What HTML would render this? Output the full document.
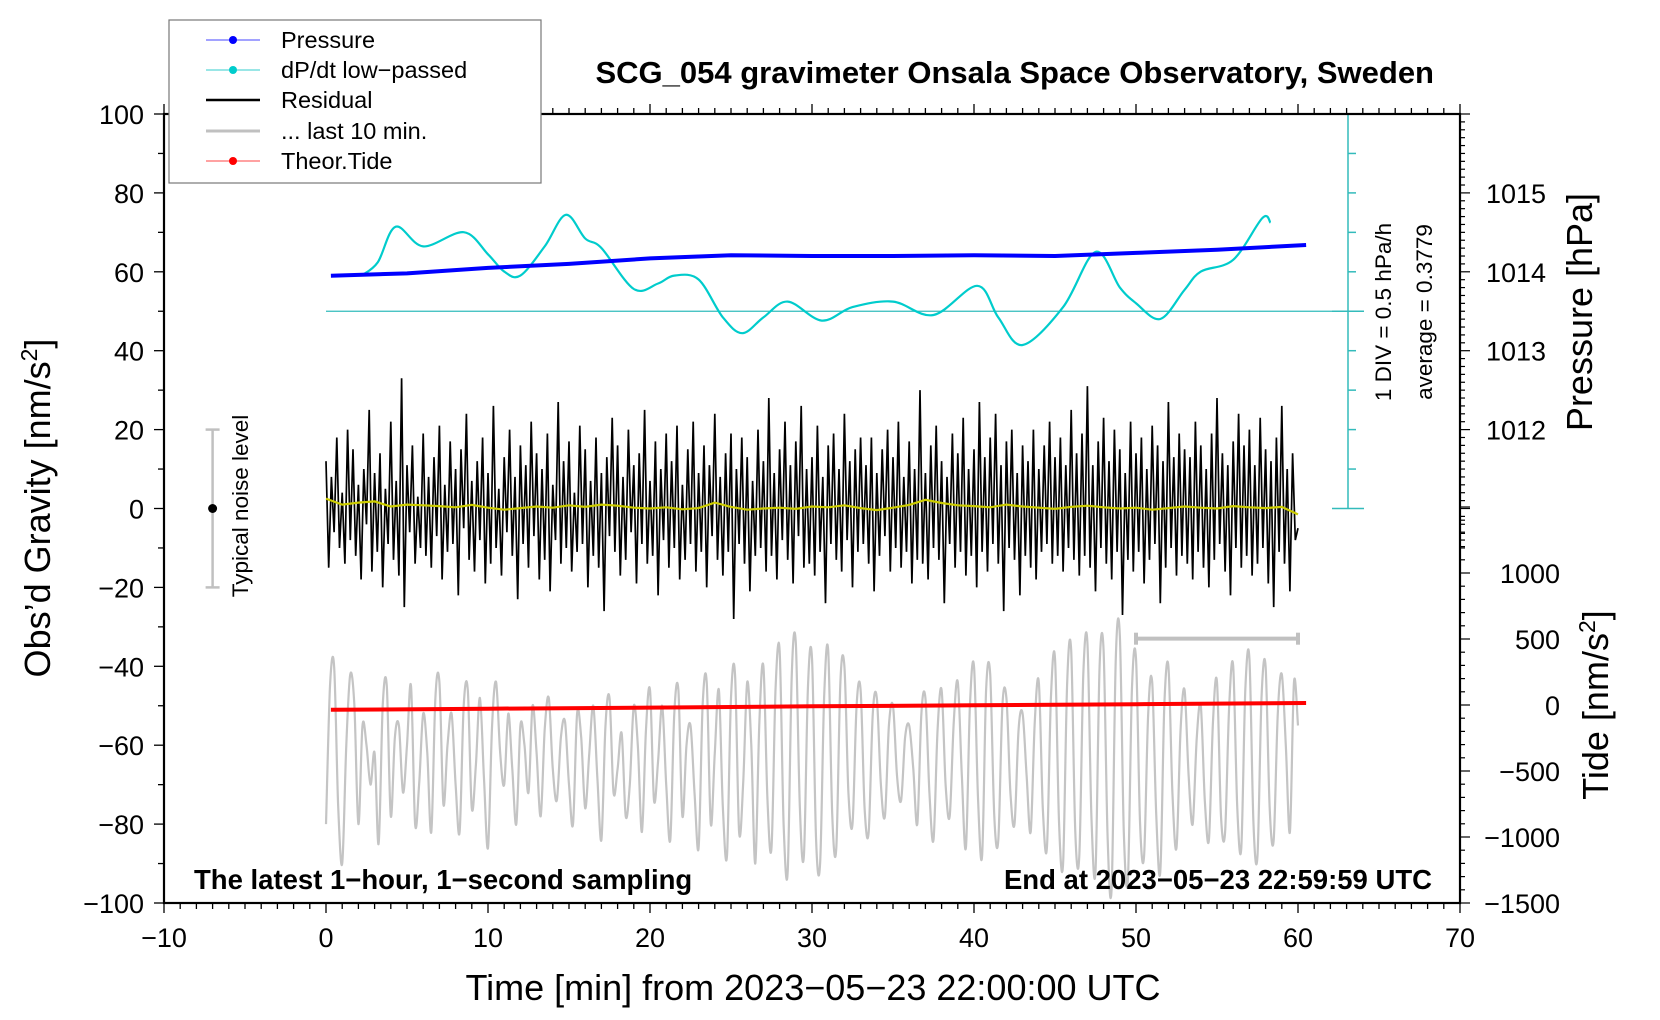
<!DOCTYPE html>
<html><head><meta charset="utf-8">
<style>
html,body{margin:0;padding:0;background:#fff;}
svg{display:block;font-family:"Liberation Sans",Arial,sans-serif;}
</style></head>
<body>
<svg id="chart" width="1660" height="1020" viewBox="0 0 1660 1020" xmlns="http://www.w3.org/2000/svg">
<rect x="0" y="0" width="1660" height="1020" fill="#fff"/>
<g id="marks"></g>
<g id="axes"></g>
<text x="1434" y="83" text-anchor="end" font-size="31" font-weight="bold">SCG_054 gravimeter Onsala Space Observatory, Sweden</text>
<text x="194" y="889" font-size="27.5" font-weight="bold">The latest 1−hour, 1−second sampling</text>
<text x="1432" y="889" text-anchor="end" font-size="27.5" font-weight="bold">End at 2023−05−23 22:59:59 UTC</text>
<text x="813" y="1000" text-anchor="middle" font-size="36">Time [min] from 2023−05−23 22:00:00 UTC</text>
<text transform="translate(50,508) rotate(-90)" text-anchor="middle" font-size="36">Obs’d Gravity [nm/s<tspan dy="-13" font-size="23">2</tspan><tspan dy="13">]</tspan></text>
<text transform="translate(1592,312) rotate(-90)" text-anchor="middle" font-size="36">Pressure [hPa]</text>
<text transform="translate(1608,705) rotate(-90)" text-anchor="middle" font-size="36">Tide [nm/s<tspan dy="-13" font-size="23">2</tspan><tspan dy="13">]</tspan></text>
<text transform="translate(1391,312) rotate(-90)" text-anchor="middle" font-size="22.5">1 DIV = 0.5 hPa/h</text>
<text transform="translate(1432,312) rotate(-90)" text-anchor="middle" font-size="22.5">average = 0.3779</text>
<text transform="translate(248,506) rotate(-90)" text-anchor="middle" font-size="22.5">Typical noise level</text>
<g>
<rect x="169" y="20" width="372" height="163" fill="#fff" stroke="#777" stroke-width="1.2"/>
<line x1="206" y1="40" x2="260" y2="40" stroke="#4444ff" stroke-width="1"/><circle cx="233" cy="40" r="4" fill="#0000ff"/>
<text x="281" y="48" font-size="23.5">Pressure</text>
<line x1="206" y1="70" x2="260" y2="70" stroke="#33cccc" stroke-width="1"/><circle cx="233" cy="70" r="4" fill="#00cccc"/>
<text x="281" y="78" font-size="23.5">dP/dt low−passed</text>
<line x1="206" y1="100" x2="260" y2="100" stroke="#000" stroke-width="2.5"/>
<text x="281" y="108" font-size="23.5">Residual</text>
<line x1="206" y1="131" x2="260" y2="131" stroke="#c0c0c0" stroke-width="3"/>
<text x="281" y="139" font-size="23.5">... last 10 min.</text>
<line x1="206" y1="161" x2="260" y2="161" stroke="#ff4444" stroke-width="1"/><circle cx="233" cy="161" r="4" fill="#ff0000"/>
<text x="281" y="169" font-size="23.5">Theor.Tide</text>
</g>
</svg>
<script>
// ---- data ----
const pressureTimes = [0.3,5,10,15,20,25,30,35,40,45,50,55,60.5];
const pressureValues = [1013.95,1013.98,1014.05,1014.1,1014.17,1014.21,1014.2,1014.2,1014.21,1014.2,1014.24,1014.28,1014.34];
const dpdtTimes = [2.2,3.2,4.3,6,8.5,10,11,12,13.5,14.8,16,17,19,20.5,21.5,23,24.5,25.7,27,28.5,30.6,32.5,35,37.5,40.2,41.5,43,45.5,47.5,49,50,51.5,53,54,56,57.8,58.3];
const dpdtValues = [0.83,1.0,1.45,1.2,1.38,1.1,0.88,0.83,1.2,1.6,1.3,1.18,0.66,0.73,0.83,0.78,0.3,0.1,0.3,0.5,0.26,0.43,0.5,0.33,0.7,0.3,-0.05,0.43,1.13,0.68,0.48,0.28,0.65,0.88,1.03,1.56,1.5];
const tideTimes = [0.3,10,20,30,40,50,60.5];
const tideValues = [-36,-28,-20,-10,-2,6,15];
const residualValues = [
12,-15,8,-6,18,-10,4,-14,20,-8,15,-12,6,-18,10,-4,25,-16,9,-11,
14,-20,5,-9,22,-13,7,-17,33,-25,11,-6,16,-14,3,-10,19,-12,8,-15,
13,-7,21,-18,6,-11,17,-9,10,-22,15,-5,24,-13,7,-16,12,-8,18,-19,
9,-14,26,-10,5,-17,13,-6,20,-12,8,-23,16,-9,11,-15,22,-7,14,-18,
10,-13,19,-21,6,-8,27,-14,12,-10,17,-16,4,-11,21,-9,15,-20,7,-12,
18,-15,9,-26,13,-7,23,-11,16,-17,8,-13,20,-6,11,-19,14,-9,25,-14,
7,-12,17,-22,10,-8,19,-15,12,-10,21,-18,6,-13,15,-9,22,-16,9,-11,
16,-20,11,-7,24,-13,8,-17,14,-11,19,-28,10,-9,18,-14,13,-21,7,-12,
20,-10,12,-16,28,-12,9,-18,15,-8,22,-13,11,-19,17,-7,26,-15,10,-14,
13,-17,21,-11,8,-24,16,-9,19,-13,10,-16,24,-8,12,-20,15,-11,18,-9,
11,-14,18,-21,9,-12,15,-7,20,-16,13,-10,22,-15,8,-11,17,-19,10,-13,
30,-14,9,-18,16,-10,21,-13,12,-24,8,-9,19,-15,14,-11,23,-17,10,-12,
15,-20,27,-11,13,-16,18,-9,24,-14,11,-26,17,-10,20,-13,9,-22,16,-12,
12,-15,20,-18,10,-11,16,-9,22,-14,13,-12,18,-16,11,-10,25,-13,14,-17,
19,-12,31,-15,11,-21,17,-10,23,-14,12,-18,20,-11,15,-27,9,-13,22,-16,
14,-11,18,-19,10,-13,21,-9,16,-24,12,-15,27,-10,13,-17,19,-12,15,-14,
13,-18,22,-11,16,-15,10,-20,19,-13,28,-9,14,-16,11,-22,17,-10,24,-15,
16,-12,20,-17,11,-14,23,-10,15,-19,12,-25,18,-11,26,-14,10,-21,14,-8,-5];
const smoothValues = [2.5,1,1.5,1.8,0.5,1,0.8,0.6,0.3,0.9,0.2,-0.3,0.1,0.5,0.2,0.8,0.4,1,0.7,0.2,0,0.3,-0.2,0.1,1.5,0.4,-0.3,0,0.2,-0.1,0.5,0.3,0.8,0.1,-0.4,0.2,0.9,2.2,1.4,0.8,0.6,0.3,1,0.5,0.2,-0.1,0.4,0.7,0.3,0,0.2,-0.3,0.1,0.5,0.2,0,0.6,0.3,0.1,0.4,-1.5];
const last10Values = [
-80,-45,-40,-75,-90,-60,-42,-50,-80,-55,-60,-70,
-62,-85,-50,-45,-78,-58,-55,-72,-60,-45,-80,-70,
-52,-62,-82,-48,-44,-75,-60,-52,-70,-82,-50,-46,
-76,-65,-48,-68,-86,-55,-44,-62,-70,-52,-66,-80,
-55,-60,-72,-50,-62,-78,-56,-48,-66,-74,-58,-54,
-70,-80,-52,-58,-76,-62,-50,-68,-84,-55,-48,-72,
-66,-57,-78,-70,-50,-60,-82,-56,-46,-74,-64,-50,
-70,-84,-52,-46,-78,-60,-55,-72,-86,-50,-44,-80,
-62,-46,-76,-88,-48,-42,-82,-70,-44,-60,-90,-54,
-40,-74,-86,-46,-36,-80,-92,-42,-34,-76,-88,-45,
-38,-84,-90,-48,-36,-78,-86,-44,-40,-72,-80,-50,
-46,-76,-82,-52,-48,-70,-78,-55,-50,-68,-74,-58,
-55,-66,-80,-52,-48,-72,-84,-56,-46,-70,-78,-54,
-44,-68,-86,-50,-40,-74,-88,-46,-42,-78,-84,-50,
-48,-72,-80,-56,-52,-68,-82,-54,-44,-76,-86,-48,
-38,-80,-90,-44,-36,-82,-88,-42,-34,-78,-92,-40,
-36,-84,-96,-38,-32,-82,-94,-46,-38,-80,-88,-52,
-44,-78,-92,-50,-40,-72,-86,-56,-46,-68,-80,-58,
-50,-74,-84,-54,-44,-78,-82,-50,-40,-76,-86,-46,
-38,-80,-88,-48,-40,-76,-84,-52,-42,-60,-82,-44,-55];
const xTickLabels = ["−10","0","10","20","30","40","50","60","70"];
const yTickLabels = ["100","80","60","40","20","0","−20","−40","−60","−80","−100"];
const pressureTickLabels = ["1015","1014","1013","1012"];
const tideTickLabels = ["1000","500","0","−500","−1000","−1500"];
const dpdtAverage = 0.3779;

// ---- scales ----
const L=164,R=1460,T=114,B=903;
const xS = t => L + (t+10)/80*(R-L);
const yS = g => B - (g+100)/200*(B-T);
const pS = p => yS(80 + (p-1015)*20);
const dS = d => yS(50 + (d-dpdtAverage)/0.5*10);
const tS = v => 705 - v*0.132;

const NS='http://www.w3.org/2000/svg';
const marks=document.getElementById('marks'), axes=document.getElementById('axes');
function mk(tag,attrs,parent){const e=document.createElementNS(NS,tag);for(const k in attrs)e.setAttribute(k,attrs[k]);parent.appendChild(e);return e;}
function pts(xs,ys){return xs.map((x,i)=>x.toFixed(1)+','+ys[i].toFixed(1)).join(' ');}
function smoothPath(xs,ys){
  let d='M'+xs[0].toFixed(1)+','+ys[0].toFixed(1);
  for(let i=0;i<xs.length-1;i++){
    const x0=xs[Math.max(i-1,0)],y0=ys[Math.max(i-1,0)],x1=xs[i],y1=ys[i],x2=xs[i+1],y2=ys[i+1],x3=xs[Math.min(i+2,xs.length-1)],y3=ys[Math.min(i+2,xs.length-1)];
    const c1x=x1+(x2-x0)/6,c1y=y1+(y2-y0)/6,c2x=x2-(x3-x1)/6,c2y=y2-(y3-y1)/6;
    d+=' C'+c1x.toFixed(1)+','+c1y.toFixed(1)+' '+c2x.toFixed(1)+','+c2y.toFixed(1)+' '+x2.toFixed(1)+','+y2.toFixed(1);
  }
  return d;
}

let e;
e=mk('g',{},marks);


mk('line',{x1:xS(-7),x2:xS(-7),y1:yS(20),y2:yS(-20),stroke:'#c0c0c0','stroke-width':2.5},e);
mk('line',{x1:xS(-7)-7,x2:xS(-7)+7,y1:yS(20),y2:yS(20),stroke:'#c0c0c0','stroke-width':2.5},e);
mk('line',{x1:xS(-7)-7,x2:xS(-7)+7,y1:yS(-20),y2:yS(-20),stroke:'#c0c0c0','stroke-width':2.5},e);
mk('circle',{cx:xS(-7),cy:yS(0),r:4.5,fill:'#000'},e);

e=mk('g',{},marks);


mk('line',{x1:xS(50),x2:xS(60),y1:yS(-33),y2:yS(-33),stroke:'#c0c0c0','stroke-width':4},e);
mk('line',{x1:xS(50),x2:xS(50),y1:yS(-33)-6,y2:yS(-33)+6,stroke:'#c0c0c0','stroke-width':4},e);
mk('line',{x1:xS(60),x2:xS(60),y1:yS(-33)-6,y2:yS(-33)+6,stroke:'#c0c0c0','stroke-width':4},e);

e=mk('path',{d:smoothPath(last10Values.map((v,i)=>xS(i*60/(last10Values.length-1))),last10Values.map(yS)),fill:'none',stroke:'#c4c4c4','stroke-width':2.2},marks);



e=mk('polyline',{points:pts(tideTimes.map(xS),tideValues.map(tS)),fill:'none',stroke:'#ff0000','stroke-width':4},marks);



e=mk('polyline',{points:pts(residualValues.map((v,i)=>xS(i*60/(residualValues.length-1))),residualValues.map(yS)),fill:'none',stroke:'#000','stroke-width':1.7},marks);


e=mk('polyline',{points:pts(smoothValues.map((v,i)=>xS(i*60/(smoothValues.length-1))),smoothValues.map(yS)),fill:'none',stroke:'#cccc00','stroke-width':2.2},marks);



const cx=1348;
e=mk('g',{},marks);


mk('line',{x1:xS(0),x2:cx+16,y1:dS(dpdtAverage),y2:dS(dpdtAverage),stroke:'#33bbbb','stroke-width':1.3},e);
mk('line',{x1:cx,x2:cx,y1:yS(100),y2:yS(0),stroke:'#33bbbb','stroke-width':1.5},e);
for(let k=0;k<=10;k++){const y=yS(k*10);const big=(k==0||k==5||k==10);mk('line',{x1:big?cx-16:cx,x2:cx+(big?16:8),y1:y,y2:y,stroke:'#33bbbb','stroke-width':1.5},e);}
e=mk('path',{d:smoothPath(dpdtTimes.map(xS),dpdtValues.map(dS)),fill:'none',stroke:'#00cccc','stroke-width':2.2},marks);



e=mk('polyline',{points:pts(pressureTimes.map(xS),pressureValues.map(pS)),fill:'none',stroke:'#0000ff','stroke-width':4},marks);



e=mk('rect',{x:L,y:T,width:R-L,height:B-T,fill:'none',stroke:'#000','stroke-width':2.2},axes);


for(let t=-10;t<=70;t++){const x=xS(t);const maj=t%10==0;
 mk('line',{x1:x,x2:x,y1:B,y2:B+(maj?10:6),stroke:'#000','stroke-width':1.3},axes);
 mk('line',{x1:x,x2:x,y1:T,y2:T-(maj?10:6),stroke:'#000','stroke-width':1.3},axes);}
xTickLabels.forEach((s,i)=>{e=mk('text',{x:xS(-10+i*10),y:947,'text-anchor':'middle','font-size':27},axes);e.textContent=s;

});
for(let g=-100;g<=100;g+=10){const y=yS(g);mk('line',{x1:L,x2:L-(g%20==0?10:6),y1:y,y2:y,stroke:'#000','stroke-width':1.3},axes);}
yTickLabels.forEach((s,i)=>{e=mk('text',{x:144,y:yS(100-i*20)+10,'text-anchor':'end','font-size':27},axes);e.textContent=s;

});
for(let k=0;k<=55;k++){const p=1010.5+k*0.1;const y=pS(p);if(y<T-1||y>B+1)continue;const maj=Math.abs(p-Math.round(p))<0.01;
 mk('line',{x1:R,x2:R+(maj?10:5),y1:y,y2:y,stroke:'#000','stroke-width':1.2},axes);}
pressureTickLabels.forEach((s,i)=>{e=mk('text',{x:1486,y:pS(1015-i)+10,'font-size':27},axes);e.textContent=s;

});
for(let v=-1500;v<=1500;v+=100){const y=tS(v);if(y<T)continue;const maj=v%500==0;
 mk('line',{x1:R,x2:R+(maj?10:5),y1:y,y2:y,stroke:'#000','stroke-width':1.2},axes);}
tideTickLabels.forEach((s,i)=>{e=mk('text',{x:1560,y:tS(1000-i*500)+10,'text-anchor':'end','font-size':27},axes);e.textContent=s;

});
</script>
</body></html>
